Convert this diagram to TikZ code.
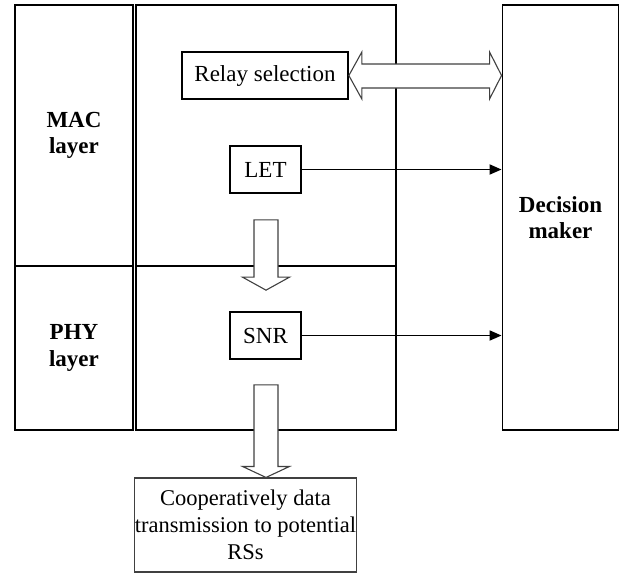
\documentclass[tikz,border=0pt]{standalone}
\usepackage{fontspec}
\setmainfont{Liberation Serif}
\usetikzlibrary{calc,arrows.meta}
\begin{document}
\begin{tikzpicture}[x=1pt,y=-1pt,
  cell/.style={draw=black,line width=1.9pt,rectangle,inner sep=0pt,align=center,
    font=\fontsize{23}{26.5}\selectfont\bfseries},
  box/.style={draw=black,line width=1.7pt,rectangle,inner sep=0pt,align=center,
    font=\fontsize{23}{26.5}\selectfont},
  outbox/.style={draw=black!75,line width=1.1pt,rectangle,inner sep=0pt,align=center,
    font=\fontsize{22.5}{27}\selectfont},
  blockarrow/.style={draw=black!75,line width=1.1pt,fill=white,line join=miter},
  link/.style={line width=1.8pt,-{Triangle[length=12pt,width=10pt]}}
]
\useasboundingbox (0,0) rectangle (620,574);
% left column
\node[cell,minimum width=118,minimum height=261] (mac) at (74,135.5) {MAC\\layer};
\node[cell,minimum width=118,minimum height=164] (phy) at (74,348) {PHY\\layer};
% middle column
\node[cell,minimum width=260,minimum height=261] (macmid) at (266,135.5) {};
\node[cell,minimum width=260,minimum height=164] (phymid) at (266,348) {};
% decision maker
\node[cell,minimum width=116,minimum height=425] (dec) at (560.5,217.5) {Decision\\maker};
% inner boxes
\node[box,minimum width=166,minimum height=47] (relay) at (265,75.5) {Relay selection};
\node[box,minimum width=71,minimum height=47] (let) at (265.5,169.5) {LET};
\node[box,minimum width=71,minimum height=47] (snr) at (265.5,335.5) {SNR};
% output box
\node[outbox,minimum width=219,minimum height=94] (out) at (245.5,525)
  {Cooperatively data\\transmission to potential\\RSs};
% links
\draw[link] (let.east) -- (let.east -| dec.west);
\draw[link] (snr.east) -- (snr.east -| dec.west);
% double block arrow
\coordinate (dl) at (relay.east);
\coordinate (dr) at (relay.east -| dec.west);
\draw[blockarrow] (dl) -- ($(dl)+(13,-23.5)$) -- ($(dl)+(13,-11.5)$)
  -- ($(dr)+(-12,-11.5)$) -- ($(dr)+(-12,-23.5)$) -- (dr)
  -- ($(dr)+(-12,23.5)$) -- ($(dr)+(-12,12.5)$)
  -- ($(dl)+(13,12.5)$) -- ($(dl)+(13,23.5)$) -- cycle;
% down block arrows
\coordinate (a1t) at ($(let.south)+(0.5,26)$);
\coordinate (a1h) at ($(snr.north)+(0.5,-21)$);
\draw[blockarrow] ($(a1t)+(-12,0)$) -- ($(a1t)+(12,0)$) -- ($(a1h)+(12,-13)$)
  -- ($(a1h)+(23.5,-13)$) -- (a1h) -- ($(a1h)+(-23.5,-13)$) -- ($(a1h)+(-12,-13)$) -- cycle;
\coordinate (a2t) at ($(snr.south)+(0.5,25)$);
\coordinate (a2h) at ($(out.north)!(a2t)!(out.north east)$);
\draw[blockarrow] ($(a2t)+(-12,0)$) -- ($(a2t)+(12,0)$) -- ($(a2h)+(12,-11)$)
  -- ($(a2h)+(23.5,-11)$) -- (a2h) -- ($(a2h)+(-23.5,-11)$) -- ($(a2h)+(-12,-11)$) -- cycle;
\end{tikzpicture}
\end{document}
